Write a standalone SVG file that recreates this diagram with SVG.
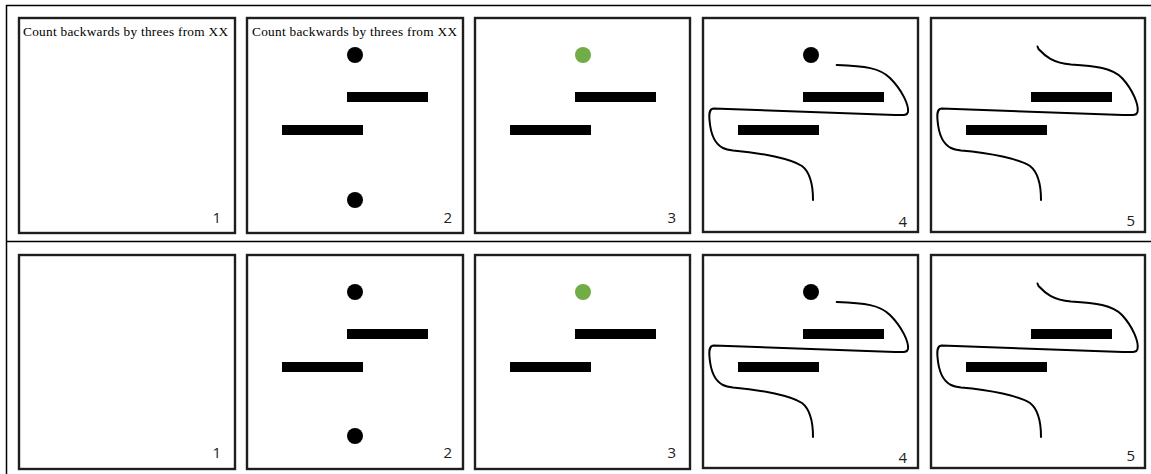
<svg xmlns="http://www.w3.org/2000/svg" xmlns:xlink="http://www.w3.org/1999/xlink" width="1151" height="474" viewBox="0 0 1151 474">
<style>
.frame{fill:none;stroke:#000;stroke-width:1.5}
.panel{fill:#fff;stroke:#1e1e1e;stroke-width:2.4}
.bar{fill:#000}
.dot{fill:#000}
.green{fill:#70ad47}
.curve{fill:none;stroke:#000;stroke-width:2;stroke-linecap:round;stroke-linejoin:round}
.num{font-family:"Open Sans","Liberation Sans",Arial,sans-serif;font-size:15px;fill:#222;text-anchor:end}
.cap{font-family:"Liberation Serif","Times New Roman",serif;font-size:13.3px;fill:#000}
</style>
<defs>
<g id="bars">
<rect class="bar" x="100" y="74" width="81" height="10"/>
<rect class="bar" x="35" y="107" width="81" height="10"/>
</g>
<path id="lowerLoop" d="M192,97 L10.5,90.5 C6,91 6,96 6.5,102 C7.5,115 12,126 20,130 C23,131.5 26,132 30,132.5 C60,135 88,141 99,148 C108,155 110,170 110,182"/>
</defs>
<rect x="0" y="0" width="1151" height="474" fill="#fff"/>
<g id="outer-frame">
<path class="frame" d="M1151,5.5 H6.5 V474"/>
<path class="frame" d="M6.5,241.5 H1151"/>
</g>

<!-- Row 1 -->
<g id="r1p1" transform="translate(19,18)">
<rect class="panel" x="0" y="0" width="216" height="215"/>
<text class="cap" x="4" y="18" textLength="205" lengthAdjust="spacing">Count backwards by threes from XX</text>
<text class="num" x="202" y="205">1</text>
</g>
<g id="r1p2" transform="translate(247,18)">
<rect class="panel" x="0" y="0" width="216" height="215"/>
<text class="cap" x="5" y="18" textLength="205" lengthAdjust="spacing">Count backwards by threes from XX</text>
<circle class="dot" cx="108" cy="37" r="8"/>
<use xlink:href="#bars"/>
<circle class="dot" cx="108" cy="182" r="8"/>
<text class="num" x="205" y="205">2</text>
</g>
<g id="r1p3" transform="translate(475,18)">
<rect class="panel" x="0" y="0" width="215" height="215"/>
<circle class="green" cx="108" cy="37" r="8"/>
<use xlink:href="#bars"/>
<text class="num" x="201" y="205">3</text>
</g>
<g id="r1p4" transform="translate(703,18)">
<rect class="panel" x="0" y="0" width="215" height="214"/>
<circle class="dot" cx="108" cy="37" r="8"/>
<use xlink:href="#bars"/>
<path class="curve" d="M133.7,47 C162,48 177,50 187,60 C199,72 206,87 205,94 C204,98 200,97 192,97"/>
<use class="curve" xlink:href="#lowerLoop"/>
<text class="num" x="204" y="209">4</text>
</g>
<g id="r1p5" transform="translate(931,18)">
<rect class="panel" x="0" y="0" width="214" height="214"/>
<use xlink:href="#bars"/>
<path class="curve" d="M106.5,28.5 L107.5,31 C114,38 122,45 140,46.5 C165,48 181,50 191,60 C202,72 208,87 206.5,94 C205.5,98 201,97 192,97"/>
<use class="curve" xlink:href="#lowerLoop"/>
<text class="num" x="204" y="208">5</text>
</g>

<!-- Row 2 -->
<g id="r2p1" transform="translate(19,255)">
<rect class="panel" x="0" y="0" width="216" height="214"/>
<text class="num" x="202" y="203">1</text>
</g>
<g id="r2p2" transform="translate(247,255)">
<rect class="panel" x="0" y="0" width="216" height="214"/>
<circle class="dot" cx="108" cy="37" r="8"/>
<use xlink:href="#bars"/>
<circle class="dot" cx="108" cy="181" r="8"/>
<text class="num" x="205" y="203">2</text>
</g>
<g id="r2p3" transform="translate(475,255)">
<rect class="panel" x="0" y="0" width="215" height="214"/>
<circle class="green" cx="108" cy="37" r="8"/>
<use xlink:href="#bars"/>
<text class="num" x="201" y="203">3</text>
</g>
<g id="r2p4" transform="translate(703,255)">
<rect class="panel" x="0" y="0" width="215" height="213"/>
<circle class="dot" cx="108" cy="37" r="8"/>
<use xlink:href="#bars"/>
<path class="curve" d="M133.7,47 C162,48 177,50 187,60 C199,72 206,87 205,94 C204,98 200,97 192,97"/>
<use class="curve" xlink:href="#lowerLoop"/>
<text class="num" x="204" y="208">4</text>
</g>
<g id="r2p5" transform="translate(931,255)">
<rect class="panel" x="0" y="0" width="214" height="213"/>
<use xlink:href="#bars"/>
<path class="curve" d="M106.5,28.5 L107.5,31 C114,38 122,45 140,46.5 C165,48 181,50 191,60 C202,72 208,87 206.5,94 C205.5,98 201,97 192,97"/>
<use class="curve" xlink:href="#lowerLoop"/>
<text class="num" x="204" y="206">5</text>
</g>
<g id="connectors"/>
</svg>
